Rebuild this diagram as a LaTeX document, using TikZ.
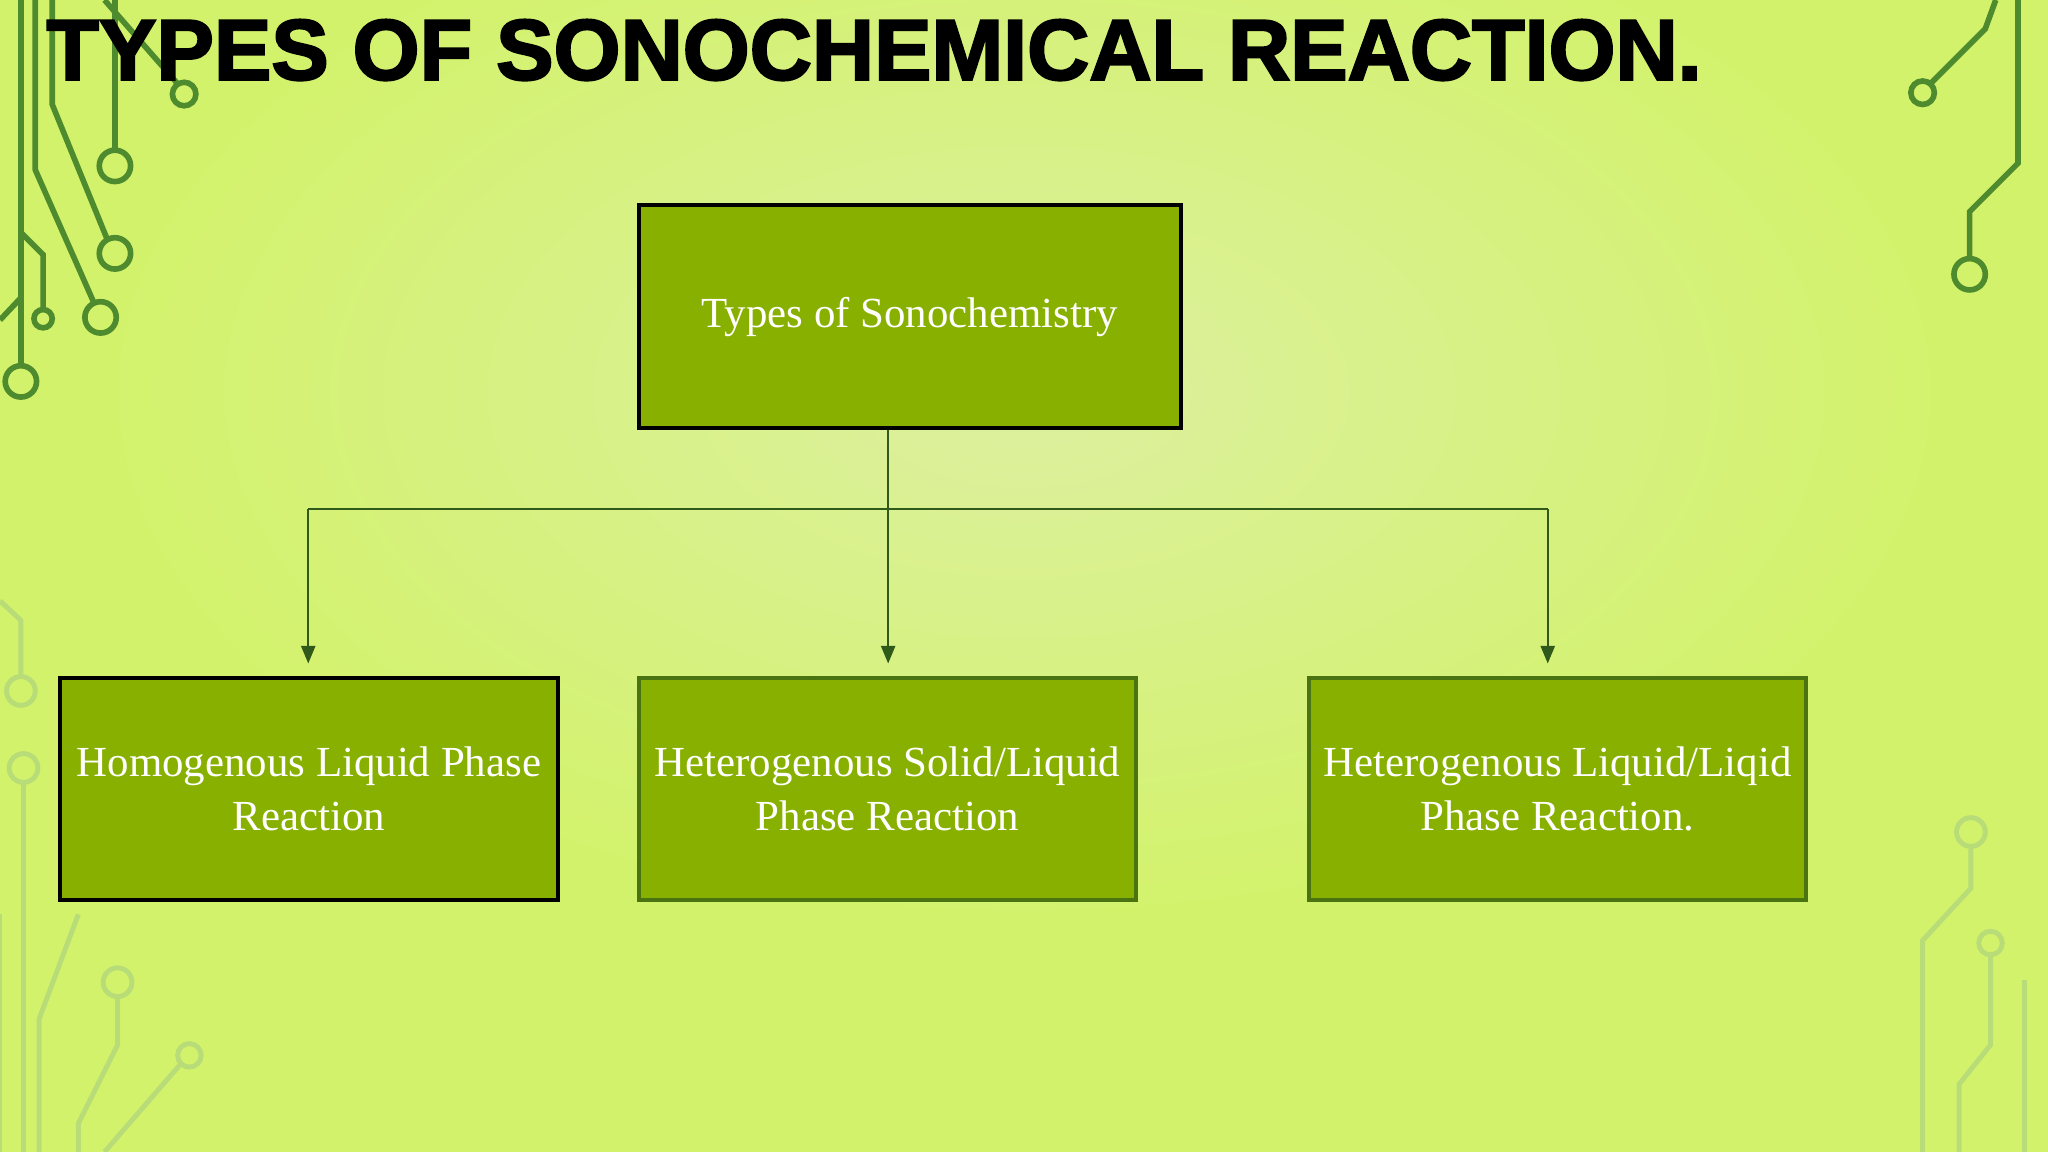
\documentclass[tikz,border=0pt]{standalone}
\usepackage{fontspec}
\setmainfont{Liberation Serif}
\newfontfamily\titlefont[FakeBold=2.5]{Liberation Sans Bold}
\usetikzlibrary{arrows.meta}
\definecolor{bgc}{HTML}{D3F26C}
\definecolor{bgl}{HTML}{DDF0A0}
\definecolor{boxc}{HTML}{88B000}
\definecolor{linec}{HTML}{2F5A1A}
\definecolor{circ}{HTML}{4E8A2E}
\definecolor{faint}{HTML}{B8DC78}
\tikzset{
  box/.style={draw=#1, line width=1.2pt, fill=boxc, text=white, align=center, font=\fontsize{12.2}{15.5}\selectfont, inner sep=0pt},
  conn/.style={draw=linec, line width=0.6pt},
  arr/.style={conn, -{Triangle[length=5pt,width=4pt]}},
  deco/.style={draw=circ, line width=1.6pt},
  fdeco/.style={draw=faint, line width=1.4pt},
}
\begin{document}
\begin{tikzpicture}[x=0.013061cm, y=-0.013061cm]
\useasboundingbox (0,0) rectangle (1568,882);
\fill[bgc] (0,0) rectangle (1568,882);
\shade[inner color=bgl, outer color=bgc] (784,300) ellipse (700 and 400);
% circuit decorations (left top)
\draw[deco] (16,0) -- (16,280); \draw[deco] (16,292) circle (12);
\draw[deco] (27,0) -- (27,130) -- (72,232); \draw[deco] (77,243) circle (12);
\draw[deco] (40,0) -- (40,80) -- (82,183); \draw[deco] (88,194) circle (12);
\draw[deco] (88,0) -- (88,115); \draw[deco] (88,127) circle (12);
\draw[deco] (80,0) -- (135,63); \draw[deco] (141,72) circle (9);
\draw[deco] (16,178) -- (33,195) -- (33,237); \draw[deco] (33,244) circle (7);
\draw[deco] (0,245) -- (16,228);
% right top
\draw[deco] (1528,0) -- (1520,22) -- (1478,64); \draw[deco] (1472,71) circle (9);
\draw[deco] (1545,0) -- (1545,125) -- (1508,162) -- (1508,198); \draw[deco] (1508,210) circle (12);
% faint ones
\draw[fdeco] (0,460) -- (16,475) -- (16,518); \draw[fdeco] (16,529) circle (11);
\draw[fdeco] (18,588) circle (11); \draw[fdeco] (18,600) -- (18,882);
\draw[fdeco] (0,700) -- (0,882); \draw[fdeco] (60,700) -- (30,780) -- (30,882);
\draw[fdeco] (90,752) circle (11); \draw[fdeco] (90,764) -- (90,800) -- (60,860) -- (60,882);
\draw[fdeco] (145,808) circle (9); \draw[fdeco] (138,815) -- (80,882);
\draw[fdeco] (1509,637) circle (11); \draw[fdeco] (1509,649) -- (1509,680) -- (1472,720) -- (1472,882);
\draw[fdeco] (1524,722) circle (9); \draw[fdeco] (1524,731) -- (1524,800) -- (1500,830) -- (1500,882);
\draw[fdeco] (1550,750) -- (1550,882);
% title
\node[anchor=base west, inner sep=0pt, font=\titlefont\fontsize{24.5}{28}\selectfont] (title) at (35,61) {TYPES OF SONOCHEMICAL REACTION.};
% boxes
\node[box=black, minimum width=5.42cm, minimum height=2.233cm] (top) at (696.5,242.5) {Types of Sonochemistry};
\node[box=black, minimum width=4.976cm, minimum height=2.22cm] (b1) at (236.5,604) {Homogenous Liquid Phase\\Reaction};
\node[box=linec!70!boxc, minimum width=4.976cm, minimum height=2.22cm] (b2) at (679.5,604) {Heterogenous Solid/Liquid\\Phase Reaction};
\node[box=linec!70!boxc, minimum width=4.976cm, minimum height=2.22cm] (b3) at (1192.5,604) {Heterogenous Liquid/Liqid\\Phase Reaction.};
% connectors
\coordinate (j) at (680,390);
\coordinate (l) at (236,390);
\coordinate (r) at (1185,390);
\draw[conn] (top.south -| j) -- (j);
\draw[conn] (l) -- (r);
\draw[arr] (l) -- (236,508);
\draw[arr] (j) -- (680,508);
\draw[arr] (r) -- (1185,508);
\end{tikzpicture}
\end{document}
